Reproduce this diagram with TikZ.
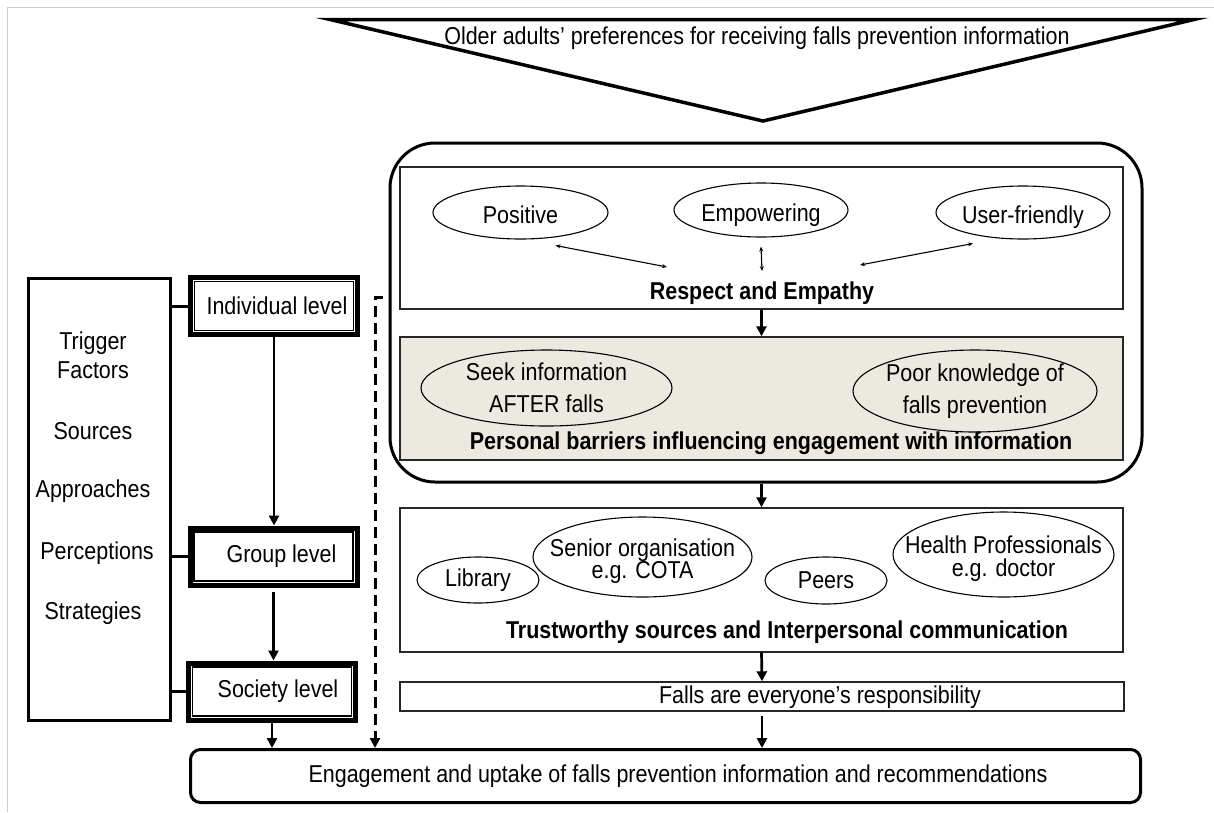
\documentclass[tikz,border=0pt]{standalone}
\usepackage{fontspec}
\setmainfont{Liberation Sans}[FakeStretch=0.88]
\usepackage{tikz}
\usetikzlibrary{positioning,arrows.meta,shapes.geometric}
\definecolor{barrierfill}{RGB}{236,234,224}

\begin{document}
\begin{tikzpicture}[
    x=1pt, y=-1pt,
    font=\fontsize{24.4}{29}\selectfont,
    box/.style={draw=black!85, line width=1.4pt, inner sep=0pt},
    oval/.style={draw, ellipse, line width=1.1pt, inner sep=0pt},
    captext/.style={text height=27pt, text depth=5pt},
    twoline/.style={align=center, font=\fontsize{24.4}{32}\selectfont},
    tightline/.style={align=center, font=\fontsize{24.4}{22.5}\selectfont},
    bold/.style={font=\fontsize{24.4}{29}\selectfont\bfseries},
    levelbox/.style={draw, line width=5pt, minimum width=167pt, minimum height=57pt, inner sep=0pt},
    heavy/.style={draw, line width=3pt, inner sep=0pt},
    arrow/.style={-{Triangle[length=10pt, width=10pt]}, line width=2.7pt},
    twoway/.style={{Stealth[length=5pt, width=4pt]}-{Stealth[length=5pt, width=4pt]}, line width=1.1pt},
    dasharrow/.style={-{Triangle[length=10pt, width=10pt]}, line width=3pt, dash pattern=on 11pt off 6pt}
]
\useasboundingbox (0,0) rectangle (1214,812);
\draw[black!20, line width=1pt] (7,812) -- (7,7) -- (1214,7);

% preferences funnel
\draw[line width=3.5pt] (330,19.5) -- (1194,19.5) -- (763,121) -- cycle;
\node (pref) at (757,38) {Older adults’ preferences for receiving falls prevention information};

% core frame with respect and barriers
\node[heavy, rounded corners=45pt, minimum width=752pt, minimum height=339pt] (core) at (766,312.5) {};
\node[box, minimum width=723pt, minimum height=142pt] (respect) at (761.5,238) {};
\node[oval, captext, minimum width=175pt, minimum height=53pt] (positive) at (520.5,212.5) {Positive};
\node[oval, captext, minimum width=174pt, minimum height=54pt] (empower) at (761,210) {Empowering};
\node[oval, captext, minimum width=174pt, minimum height=53pt] (userfriendly) at (1023,212.5) {User-friendly};
\node[bold] (respecttxt) at (762,293) {Respect and Empathy};
\coordinate (hubL) at (667,267);
\coordinate (hubC) at (762,271);
\coordinate (hubR) at (860,265);
\draw[twoway] ([shift={(35,33)}]positive.center) -- (hubL);
\draw[twoway] ([shift={(0,9)}]empower.south) -- (hubC);
\draw[twoway] ([shift={(-50,31)}]userfriendly.center) -- (hubR);

\node[box, fill=barrierfill, minimum width=723pt, minimum height=123pt] (barriers) at (761.5,398.5) {};
\node[oval, minimum width=251pt, minimum height=76pt] (seek) at (546.5,388) {};
\node[twoline] (seektxt) at (seek) {Seek information\\AFTER falls};
\node[oval, minimum width=244pt, minimum height=82pt] (poorknow) at (975,391) {};
\node[twoline] (poorknowtxt) at (poorknow) {Poor knowledge of\\falls prevention};
\node[bold] (barrierstxt) at (771,443) {Personal barriers influencing engagement with information};
\draw[arrow] (respect.south) -- (barriers.north);

% trustworthy sources
\node[box, minimum width=723pt, minimum height=144pt] (trusted) at (761.5,580) {};
\node[oval, minimum width=122pt, minimum height=46pt] (library) at (478,580) {Library};
\node[oval, minimum width=219pt, minimum height=80pt] (seniororg) at (642.5,557) {};
\node[tightline] (seniororgtxt) at ([shift={(0,4)}]seniororg) {Senior organisation\\e.g. COTA};
\node[oval, minimum width=122pt, minimum height=47pt] (peers) at (826,580.5) {Peers};
\node[oval, minimum width=221pt, minimum height=85pt] (healthpro) at (1003.5,554.5) {};
\node[tightline] (healthprotxt) at ([shift={(0,4)}]healthpro) {Health Professionals\\e.g. doctor};
\node[bold] (trustedtxt) at (787,632) {Trustworthy sources and Interpersonal communication};
\draw[arrow] (trusted.north |- core.south) -- (trusted.north);

\node[box, minimum width=724pt, minimum height=29pt] (falls) at (762,696.5) {};
\node (fallstxt) at (820,697) {Falls are everyone’s responsibility};
\draw[arrow] (trusted.south) -- (falls.north);

% outcome
\node[heavy, rounded corners=10pt, minimum width=950pt, minimum height=53pt] (engage) at (665.5,776) {};
\node (engagetxt) at (678,776) {Engagement and uptake of falls prevention information and recommendations};
\draw[arrow] ([shift={(0,4)}]falls.south) -- (falls.south |- engage.north);

% levels
\node[heavy, minimum width=142pt, minimum height=442pt] (factors) at (99,499) {};
\node[align=center] (trigger) at (93,355) {Trigger\\Factors};
\node (sources) at (93,431) {Sources};
\node (approaches) at (93,491) {Approaches};
\node (perceptions) at (97,553) {Perceptions};
\node (strategies) at (93,613) {Strategies};

\node[levelbox] (indiv) at (274,306) {\hspace{6pt}Individual level};
\node[levelbox] (group) at (273.5,556.5) {\hspace{16pt}Group level};
\node[levelbox] (society) at (272,691.5) {\hspace{12pt}Society level};
\foreach \lvl in {indiv,group,society}{
  \draw[line width=1.2pt] ([shift={(6.5,6.5)}]\lvl.north west) rectangle ([shift={(-6.5,-6.5)}]\lvl.south east);
  \draw[line width=3pt] (factors.east |- \lvl.west) -- (\lvl.west);
}
\draw[arrow] (indiv.south) -- (indiv.south |- group.north);
\draw[arrow, shorten <=4pt] (group.south) -- (group.south |- society.north);
\draw[arrow] (society.south) -- (society.south |- engage.north);

\coordinate (dashstart) at (383,297);
\coordinate (dashbend) at (375,297);
\draw[dasharrow] (dashstart) -- (dashbend) -- (dashbend |- engage.north);
\end{tikzpicture}
\end{document}
